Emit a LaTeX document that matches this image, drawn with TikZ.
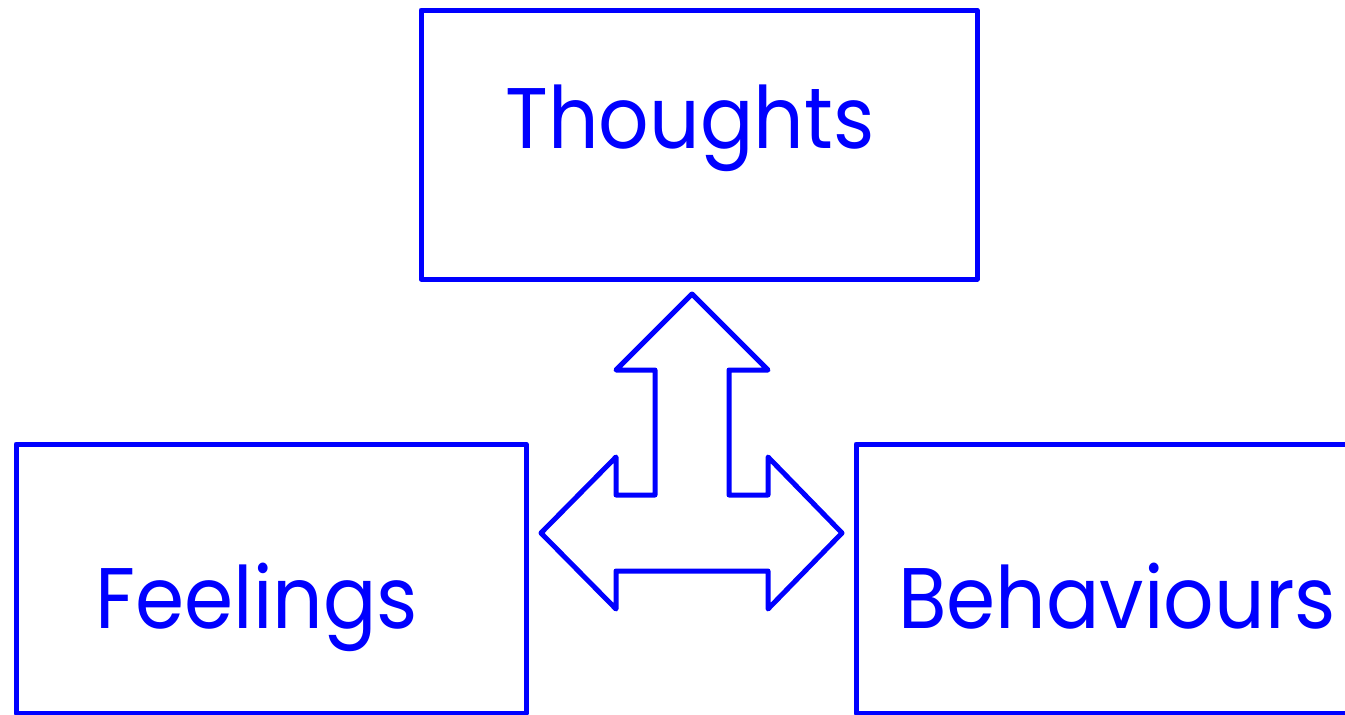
\documentclass[tikz,border=0pt]{standalone}
\usepackage{fontspec}
\setmainfont{Poppins}
\definecolor{pblue}{RGB}{0,0,255}
\newcommand{\sq}[1]{\scalebox{0.92}[1]{#1}}
\begin{document}
\begin{tikzpicture}[x=1pt,y=-1pt,
  box/.style={draw=pblue,line width=5pt,line join=round,rectangle,inner sep=0pt},
  lbl/.style={text=pblue,anchor=base,inner sep=0pt,font=\fontsize{86}{100}\selectfont},
  tri/.style={draw=pblue,line width=5pt,line join=round}]
\useasboundingbox (0,0) rectangle (1345,715);
\node[box,minimum width=556pt,minimum height=269pt] (tb) at (699,144.5) {};
\node[box,minimum width=510pt,minimum height=269pt] (fb) at (271,578.5) {};
\node[box,minimum width=560pt,minimum height=269pt] (bb) at (1136,578.5) {};
\node[lbl] (tt) at (690,148) {\sq{Thoughts}};
\node[lbl] (ft) at (257,628) {\sq{Feelings}};
\node[lbl] (bt) at (1117,628) {\sq{Behaviours}};
\draw[tri] (692,294) -- (768,370) -- (729,370) -- (729,495) -- (768,495) -- (768,457)
  -- (842,533) -- (768,609) -- (768,571) -- (616,571) -- (616,609) -- (541,533)
  -- (616,457) -- (616,495) -- (655,495) -- (655,370) -- (616,370) -- cycle;
\end{tikzpicture}
\end{document}
